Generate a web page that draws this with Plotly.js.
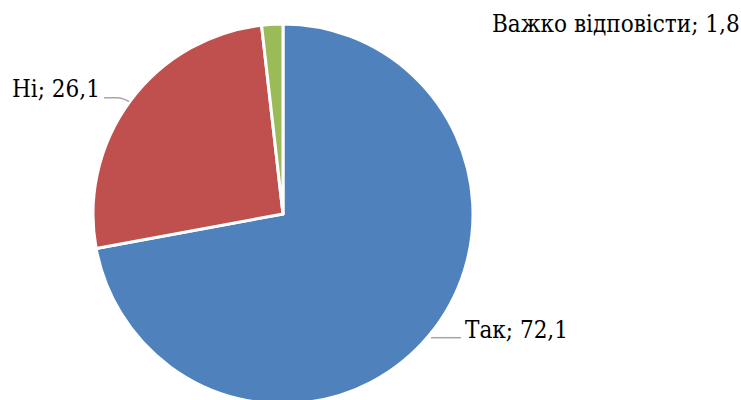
<!DOCTYPE html>
<html>
<head>
<meta charset="utf-8">
<script src="https://cdn.plot.ly/plotly-3.0.1.min.js"></script>
<style>
html,body{margin:0;padding:0;overflow:hidden;background:#fff;}
#chart{width:741px;height:410px;}
</style>
</head>
<body>
<div id="chart"></div>
<script>
var labels = ["Так", "Ні", "Важко відповісти"];
var values = [72.1, 26.1, 1.8];
var colors = ["#4F81BD", "#C0504D", "#9BBB59"];

var W = 741, H = 410;
function px(x){ return x / W; }
function py(y){ return 1 - y / H; }

function fmt(v){ return v.toFixed(1).replace('.', ','); }
var labelText = labels.map(function(l, i){ return l + '; ' + fmt(values[i]); });

var labelPos = [[463, 330], [10, 89], [490, 24]];

var FONT = "DejaVu Serif Condensed";

var annotations = labelText.map(function(t, i){
  return {
    text: t, xref: 'paper', yref: 'paper',
    x: px(labelPos[i][0]), y: py(labelPos[i][1]),
    xanchor: 'left', yanchor: 'middle', showarrow: false,
    font: {family: FONT, size: 24, color: '#000'}
  };
});

var shapes = [
  {type: 'line', xref: 'paper', yref: 'paper', x0: px(431), y0: py(337.7), x1: px(461), y1: py(337.7),
   line: {color: '#A6A6A6', width: 1.5}},
  {type: 'path', xref: 'paper', yref: 'paper',
   path: 'M ' + px(104) + ',' + py(97.7) + ' L ' + px(116) + ',' + py(97.7) + ' Q ' + px(124) + ',' + py(98) + ' ' + px(129) + ',' + py(101.7),
   line: {color: '#A6A6A6', width: 1.5}}
];

var data = [{
  type: 'pie',
  labels: labels,
  values: values,
  sort: false,
  direction: 'clockwise',
  rotation: 0,
  textinfo: 'none',
  hoverinfo: 'label+value',
  marker: {colors: colors, line: {color: '#FFFFFF', width: 3}},
  domain: {x: [93 / W, 473 / W], y: [6 / H, 386 / H]},
  automargin: false
}];

var layout = {
  width: W, height: H,
  margin: {l: 0, r: 0, t: 0, b: 0},
  paper_bgcolor: '#FFFFFF',
  showlegend: false,
  annotations: annotations,
  shapes: shapes
};

Plotly.newPlot('chart', data, layout, {displayModeBar: false, staticPlot: true});
</script>
</body>
</html>
